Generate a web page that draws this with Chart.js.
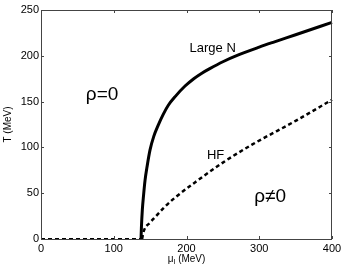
<!DOCTYPE html>
<html>
<head>
<meta charset="utf-8">
<script src="https://cdn.jsdelivr.net/npm/chart.js@4"></script>
<style>
  html, body { margin: 0; padding: 0; background: #fff; }
  #wrap { width: 346px; height: 271px; }
</style>
</head>
<body>
<div id="wrap"><canvas id="phaseChart" width="346" height="271"></canvas></div>
<script>
// curve data (mu_I in MeV, T in MeV)
const muLargeN = [137.5, 138, 139.3, 141, 143, 146, 149.8, 155, 161, 168, 175, 185, 198, 210, 220, 232, 250, 273, 300, 320, 350, 400];
const tLargeN  = [0,     12,  32,    48,  64,  80,  97,    112, 124, 136, 146, 156, 167, 175, 180.5, 186, 193.5, 201.5, 209.5, 215, 223, 236.5];

const muHF = [139, 141, 150, 157, 170, 184, 212, 253, 290, 350, 400];
const tHF  = [0,   8,   18,  24,  35,  45,  62,  85,  103, 129, 152];

const muZero = [0, 139];
const tZero  = [0, 0];

const xTicks = [0, 100, 200, 300, 400];
const yTicks = [0, 50, 100, 150, 200, 250];

// text labels placed in data coordinates
const notes = [
    { text: 'ρ=0', mu: 84,  t: 157, size: 19 },
    { text: 'ρ≠0', mu: 315, t: 46,  size: 19 },
    { text: 'Large N', mu: 236, t: 208, size: 13 },
    { text: 'HF', mu: 240, t: 91, size: 13 }
];

const toPoints = (xs, ys) => xs.map((x, i) => ({ x: x, y: ys[i] }));

const FONT = '"Liberation Sans", Arial, sans-serif';

// draws inward tick marks, box, annotations and axis titles
const decorPlugin = {
    id: 'decor',
    afterDraw(chart) {
        const ctx = chart.ctx;
        const a = chart.chartArea;
        const xs = chart.scales.x, ys = chart.scales.y;
        ctx.save();
        ctx.strokeStyle = '#444';
        ctx.lineWidth = 1;
        ctx.beginPath();
        ctx.rect(a.left + 0.5, a.top + 0.5, a.right - a.left - 1, a.bottom - a.top);
        ctx.stroke();

        ctx.beginPath();
        xTicks.forEach(v => {
            const px = Math.round(xs.getPixelForValue(v)) + 0.5;
            ctx.moveTo(px, a.bottom); ctx.lineTo(px, a.bottom - 3);
            ctx.moveTo(px, a.top); ctx.lineTo(px, a.top + 3);
        });
        yTicks.forEach(v => {
            const py = Math.round(ys.getPixelForValue(v)) + 0.5;
            ctx.moveTo(a.left, py); ctx.lineTo(a.left + 3, py);
            ctx.moveTo(a.right, py); ctx.lineTo(a.right - 3, py);
        });
        ctx.stroke();

        ctx.fillStyle = '#000';
        ctx.textAlign = 'center';
        ctx.textBaseline = 'middle';
        notes.forEach(n => {
            ctx.font = n.size + 'px ' + FONT;
            ctx.fillText(n.text, xs.getPixelForValue(n.mu), ys.getPixelForValue(n.t));
        });

        // x title: mu with subscript I
        ctx.font = '10px ' + FONT;
        const cx = (a.left + a.right) / 2;
        const ty = 259;
        const w1 = ctx.measureText('μ').width;
        ctx.font = '7px ' + FONT;
        const w2 = ctx.measureText('I').width;
        ctx.font = '10px ' + FONT;
        const w3 = ctx.measureText(' (MeV)').width;
        let x0 = cx - (w1 + w2 + w3) / 2;
        ctx.textAlign = 'left';
        ctx.fillText('μ', x0, ty);
        ctx.font = '7px ' + FONT;
        ctx.fillText('I', x0 + w1, ty + 3);
        ctx.font = '10px ' + FONT;
        ctx.fillText(' (MeV)', x0 + w1 + w2, ty);

        // y title
        ctx.translate(8, (a.top + a.bottom) / 2);
        ctx.rotate(-Math.PI / 2);
        ctx.textAlign = 'center';
        ctx.fillText('T (MeV)', 0, 0);
        ctx.restore();
    }
};

const chartConfig = {
    type: 'line',
    data: {
        datasets: [
            {
                label: 'Large N',
                data: toPoints(muLargeN, tLargeN),
                borderColor: '#000',
                borderWidth: 3,
                pointRadius: 0,
                cubicInterpolationMode: 'monotone',
                clip: false
            },
            {
                label: 'HF',
                data: toPoints(muHF, tHF),
                borderColor: '#000',
                borderWidth: 2.5,
                borderDash: [4, 3],
                pointRadius: 0,
                cubicInterpolationMode: 'monotone',
                clip: false
            },
            {
                label: 'rho0',
                data: toPoints(muZero, tZero),
                borderColor: '#000',
                borderWidth: 2,
                borderDash: [4, 3],
                pointRadius: 0,
                clip: false
            }
        ]
    },
    options: {
        responsive: false,
        animation: false,
        layout: { padding: { top: 10, right: 14, left: 0, bottom: 0 } },
        plugins: {
            legend: { display: false },
            tooltip: { enabled: false }
        },
        scales: {
            x: {
                type: 'linear',
                min: 0,
                max: 400,
                afterFit: s => { s.height = 32; },
                afterBuildTicks: s => { s.ticks = xTicks.map(v => ({ value: v })); },
                grid: { display: false, drawTicks: false },
                border: { display: false },
                ticks: { color: '#000', padding: 3, maxRotation: 0, font: { family: FONT, size: 11 } }
            },
            y: {
                type: 'linear',
                min: 0,
                max: 250,
                afterFit: s => { s.width = 41; },
                afterBuildTicks: s => { s.ticks = yTicks.map(v => ({ value: v })); },
                grid: { display: false, drawTicks: false },
                border: { display: false },
                ticks: { color: '#000', padding: 2, font: { family: FONT, size: 11 } }
            }
        }
    },
    plugins: [decorPlugin]
};

const phaseChart = new Chart(document.getElementById('phaseChart'), chartConfig);
</script>
</body>
</html>
